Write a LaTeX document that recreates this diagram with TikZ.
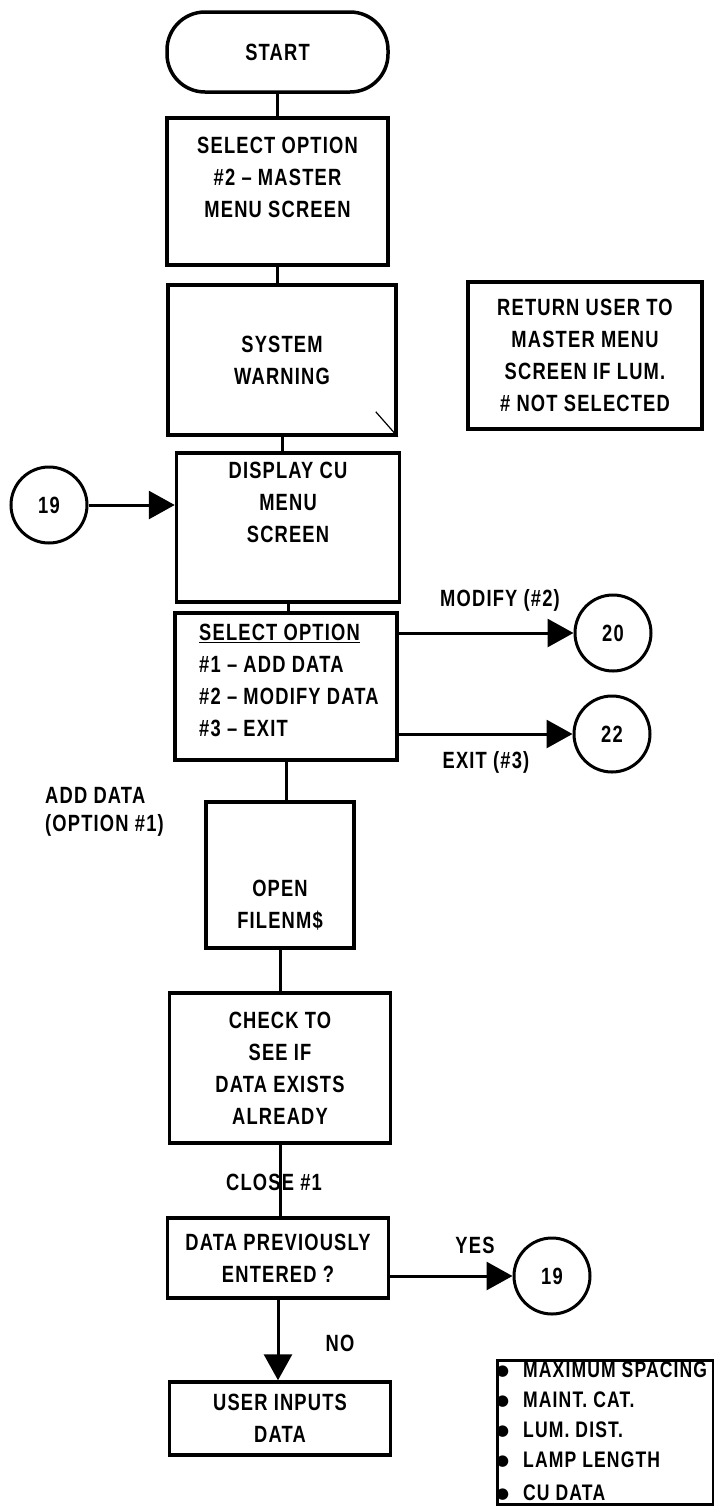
\documentclass[tikz,border=0pt]{standalone}
\usepackage{fontspec}
\setmainfont{Liberation Sans}[FakeStretch=0.78, LetterSpace=5]
\newfontfamily\symfont{DejaVu Sans}
\usetikzlibrary{positioning}
\usetikzlibrary{arrows.meta}
\newcommand{\legitem}[1]{\makebox[27pt][l]{\raisebox{2pt}{\symfont\fontsize{15}{15}\selectfont ●}}#1}
\tikzset{
    every node/.append style={
        font=\bfseries\fontsize{23.5}{32}\selectfont,
        inner sep=0pt
    },
    procbox/.style={
        draw,
        line width=3.5pt,
        minimum width=221pt,
        align=center
    },
    terminal/.style={
        procbox,
        rounded corners=38pt,
        minimum height=80pt
    },
    offpage/.style={
        circle,
        draw,
        line width=3pt,
        minimum size=76pt
    },
    flowline/.style={
        line width=3pt
    },
    flowarrow/.style={
        flowline,
        -{Triangle[length=26pt,width=28pt]}
    }
}

\begin{document}
\begin{tikzpicture}[x=1pt, y=-1pt]
    \useasboundingbox (0,0) rectangle (714,1508);

    % main column
    \node[terminal] (start) at (277.5,52) {START};
    \node[procbox, minimum height=147pt, below=22.5pt of start] (master) {SELECT OPTION\\\#2 -- MASTER\\MENU SCREEN\\[-4pt]\mbox{}};
    \node[procbox, minimum width=228pt, minimum height=150pt, below=16.5pt of master, xshift=4.5pt] (warning) {SYSTEM\\WARNING};
    \node[procbox, minimum width=223pt, minimum height=149pt, below=14.5pt of warning, xshift=6pt] (cumenu) {DISPLAY CU\\MENU\\SCREEN\\[18pt]\mbox{}};
    \node[procbox, minimum width=222pt, minimum height=147pt, below=7.5pt of cumenu, xshift=-2pt] (option) {};
    \node[anchor=north west, align=left] (optiontext) at (199,624) {\underline{SELECT OPTION}\\\#1 -- ADD DATA\\\#2 -- MODIFY DATA\\\#3 -- EXIT};
    \node[procbox, minimum width=148pt, minimum height=146pt, below=38.5pt of option, xshift=-6pt] (openfile) {\mbox{}\\[45pt]OPEN\\FILENM\$};
    \node[procbox, minimum height=150pt, below=41.5pt of openfile] (check) {CHECK TO\\SEE IF\\DATA EXISTS\\ALREADY};
    \node[procbox, minimum height=80pt, below=71.5pt of check, xshift=-2pt] (previous) {DATA PREVIOUSLY\\ENTERED ?};
    \node[procbox, minimum height=73pt, below=80.5pt of previous, xshift=2pt] (userin) {USER INPUTS\\DATA};

    \draw[flowline] (start.south) -- (start.south |- master.north);
    \draw[flowline] (master.south) -- (master.south |- warning.north);
    \draw[flowline] (warning.south) -- (warning.south |- cumenu.north);
    \draw[flowline] (cumenu.south) -- (cumenu.south |- option.north);
    \draw[flowline] (option.south) -- (option.south |- openfile.north);
    \draw[flowline] (openfile.south) -- (openfile.south |- check.north);
    \draw[flowline] (check.south) -- (check.south |- previous.north);
    \draw[flowarrow] (previous.south) -- (previous.south |- userin.north);
    \draw[line width=1.2pt] ([shift={(-22,-25)}]warning.south east) -- (warning.south east);

    % off-page connectors
    \node[offpage] (back19) at (49,505) {19};
    \draw[flowarrow] (back19) -- (back19 -| cumenu.west);
    \node[offpage] (goto20) at (613,633) {20};
    \draw[flowarrow] (goto20 -| option.east) -- (goto20);
    \node[offpage] (goto22) at (612,734) {22};
    \draw[flowarrow] (goto22 -| option.east) -- (goto22);
    \node[offpage] (again19) at (552,1276) {19};
    \draw[flowarrow] (again19 -| previous.east) -- (again19);

    % labels
    \node (modify) at (500,600) {MODIFY (\#2)};
    \node (exit) at (486,762) {EXIT (\#3)};
    \node[anchor=north west, align=left] (adddata) at (45,787) {ADD DATA\\[-4pt](OPTION \#1)};
    \node (close) at (274,1182) {CLOSE \#1};
    \node (yes) at (475,1245) {YES};
    \node (no) at (340,1343) {NO};

    % notes
    \node[procbox, minimum width=234pt, minimum height=147pt] (return) at (585,355.5) {RETURN USER TO\\MASTER MENU\\SCREEN IF LUM.\\\# NOT SELECTED};
    \node[draw, line width=3pt, minimum width=216pt, minimum height=144pt] (legend) at (605,1432) {};
    \node[anchor=north west, align=left, font=\bfseries\fontsize{22.5}{30}\selectfont] (legendtext) at (496,1362) {\legitem{MAXIMUM SPACING}\\\legitem{MAINT. CAT.}\\\legitem{LUM. DIST.}\\\legitem{LAMP LENGTH}\\[3pt]\legitem{CU DATA}};
\end{tikzpicture}
\end{document}
